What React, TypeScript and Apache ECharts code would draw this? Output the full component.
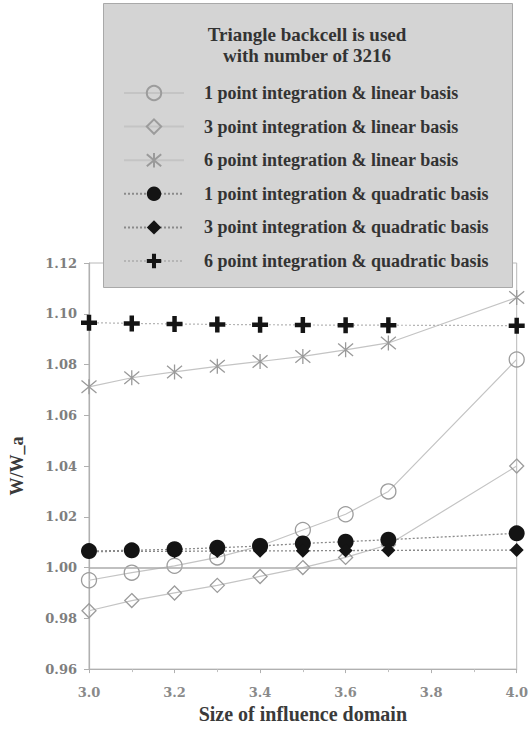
import React, { useEffect, useRef } from "react";
import * as echarts from "echarts";

// Size of influence domain (x) and normalised deflection W/W_a (y)
const sizes = [3.0, 3.1, 3.2, 3.3, 3.4, 3.5, 3.6, 3.7, 4.0];
const linear1pt = [0.995, 0.998, 1.0007, 1.004, 1.0085, 1.0148, 1.021, 1.03, 1.082];
const linear3pt = [0.983, 0.987, 0.990, 0.993, 0.9965, 1.0, 1.004, 1.009, 1.04];
const linear6pt = [1.0712, 1.0748, 1.0771, 1.0793, 1.0812, 1.0832, 1.0858, 1.0885, 1.1064];
const quad1pt = [1.0065, 1.0068, 1.0072, 1.0078, 1.0085, 1.0095, 1.0102, 1.011, 1.0135];
const quad3pt = [1.0063, 1.0064, 1.0064, 1.0065, 1.0066, 1.0066, 1.0067, 1.0068, 1.0069];
const quad6pt = [1.0965, 1.0962, 1.096, 1.0958, 1.0957, 1.0956, 1.0955, 1.0955, 1.0953];

const seriesNames = [
  "1 point integration & linear basis",
  "3 point integration & linear basis",
  "6 point integration & linear basis",
  "1 point integration & quadratic basis",
  "3 point integration & quadratic basis",
  "6 point integration & quadratic basis",
];

const legendTitle = ["Triangle backcell is used", "with number of 3216"];
const xAxisTitle = "Size of influence domain";
const yAxisTitle = "W/W_a";
const referenceLevel = 1.0;

const X_MIN = 3.0;
const X_MAX = 4.0;
const X_STEP = 0.2;
const Y_MIN = 0.96;
const Y_MAX = 1.12;
const Y_STEP = 0.02;

const FONT = "'Liberation Serif', 'Times New Roman', serif";
const TICK_FONT = "'DejaVu Serif', serif";

const ASTERISK = "path://M0,0L10,10M10,0L0,10M5,-1L5,11";
const PLUS = "path://M3.6,0H6.4V3.6H10V6.4H6.4V10H3.6V6.4H0V3.6H3.6Z";

const pairs = (ys: number[]) => sizes.map((x, i) => [x, ys[i]]);

export default function App() {
  const ref = useRef<HTMLDivElement>(null);

  useEffect(() => {
    if (!ref.current) return;
    const chart = echarts.init(ref.current, undefined, { renderer: "svg" });

    const hollow = { color: "rgba(255,255,255,0)", borderColor: "#9c9c9c", borderWidth: 1.3 };
    const lightLine = { color: "#c4c4c4", width: 1.2 };
    const darkDots = { color: "#8a8a8a", width: 1.3, type: [2, 2] as number[] };
    const titleStyle = {
      align: "center",
      verticalAlign: "middle",
      fontFamily: FONT,
      fontWeight: "bold",
      fontSize: 19,
      fill: "#333333",
    };

    chart.setOption({
      animation: false,
      backgroundColor: "#ffffff",
      grid: {
        left: 85,
        right: 11,
        top: 263,
        bottom: 55,
        show: true,
        borderColor: "#b8b8b8",
        borderWidth: 1,
      },
      xAxis: {
        type: "value",
        min: X_MIN,
        max: X_MAX,
        interval: X_STEP,
        name: xAxisTitle,
        nameLocation: "middle",
        nameGap: 34,
        nameTextStyle: { fontFamily: FONT, fontWeight: "bold", fontSize: 20, color: "#3a3a3a" },
        axisLine: { lineStyle: { color: "#b0b0b0", width: 1.2 } },
        axisTick: { inside: false, length: 4, lineStyle: { color: "#b0b0b0" } },
        minorTick: { show: true, splitNumber: 2, length: 3, lineStyle: { color: "#c0c0c0" } },
        splitLine: { show: false },
        axisLabel: {
          margin: 17,
          fontFamily: TICK_FONT,
          fontWeight: "bold",
          fontSize: 13,
          color: "#8a8a8a",
          formatter: (v: number) => v.toFixed(1),
        },
      },
      yAxis: {
        type: "value",
        min: Y_MIN,
        max: Y_MAX,
        interval: Y_STEP,
        name: yAxisTitle,
        nameLocation: "middle",
        nameGap: 63,
        nameTextStyle: { fontFamily: FONT, fontWeight: "bold", fontSize: 18, color: "#3a3a3a" },
        axisLine: { show: true, lineStyle: { color: "#b0b0b0", width: 1.2 } },
        axisTick: { show: true, inside: false, length: 5, lineStyle: { color: "#b0b0b0" } },
        splitLine: { show: false },
        axisLabel: {
          margin: 12,
          fontFamily: TICK_FONT,
          fontWeight: "bold",
          fontSize: 13,
          color: "#7e7e7e",
          formatter: (v: number) => v.toFixed(2),
        },
      },
      legend: {
        orient: "vertical",
        left: 123,
        top: 84,
        padding: 0,
        itemWidth: 60,
        itemHeight: 18,
        itemGap: 15.6,
        z: 20,
        data: seriesNames,
        textStyle: {
          fontFamily: FONT,
          fontWeight: "bold",
          fontSize: 18,
          color: "#333333",
          padding: [0, 0, 0, 15],
        },
      },
      graphic: [
        {
          type: "rect",
          left: 103,
          top: 3,
          z: 15,
          shape: { width: 409, height: 284 },
          style: { fill: "#d4d4d4", stroke: "#a9a9a9", lineWidth: 1 },
        },
        {
          type: "text",
          x: 307,
          y: 34,
          z: 16,
          style: { ...titleStyle, text: legendTitle[0] },
        },
        {
          type: "text",
          x: 307,
          y: 55,
          z: 16,
          style: { ...titleStyle, text: legendTitle[1] },
        },
      ],
      series: [
        {
          name: seriesNames[0],
          type: "line",
          data: pairs(linear1pt),
          symbol: "circle",
          symbolSize: 15,
          itemStyle: hollow,
          lineStyle: lightLine,
          markLine: {
            silent: true,
            symbol: ["none", "none"],
            label: { show: false },
            lineStyle: { color: "#ababab", width: 1.5, type: "solid" },
            data: [{ yAxis: referenceLevel }],
          },
        },
        {
          name: seriesNames[1],
          type: "line",
          data: pairs(linear3pt),
          symbol: "diamond",
          symbolSize: 14,
          itemStyle: hollow,
          lineStyle: lightLine,
        },
        {
          name: seriesNames[2],
          type: "line",
          data: pairs(linear6pt),
          symbol: ASTERISK,
          symbolSize: 15,
          itemStyle: { color: "rgba(255,255,255,0)", borderColor: "#9a9a9a", borderWidth: 1.3 },
          lineStyle: lightLine,
        },
        {
          name: seriesNames[3],
          type: "line",
          data: pairs(quad1pt),
          symbol: "circle",
          symbolSize: 16,
          itemStyle: { color: "#141414" },
          lineStyle: darkDots,
        },
        {
          name: seriesNames[4],
          type: "line",
          data: pairs(quad3pt),
          symbol: "diamond",
          symbolSize: 14,
          itemStyle: { color: "#141414" },
          lineStyle: darkDots,
        },
        {
          name: seriesNames[5],
          type: "line",
          data: pairs(quad6pt),
          symbol: PLUS,
          symbolSize: 16,
          itemStyle: { color: "#141414" },
          lineStyle: { color: "#b5b5b5", width: 1.2, type: [2, 2] },
        },
      ],
    });

    return () => chart.dispose();
  }, []);

  return (
    <div
      ref={ref}
      style={{ position: "absolute", left: 0, top: 0, width: 531, height: 729 }}
    />
  );
}
